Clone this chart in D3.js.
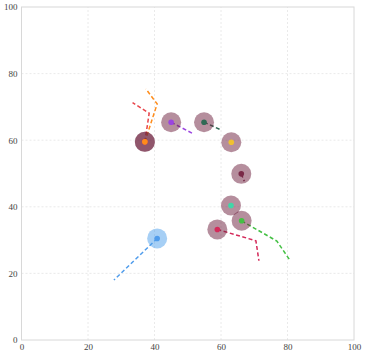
<!DOCTYPE html>
<html><head><meta charset="utf-8">
<script src="https://cdn.jsdelivr.net/npm/d3@7"></script>
<style>body{margin:0;background:#fff}svg{display:block}</style>
</head><body>
<script>
const names = ["red","orange","purple","darkgreen","yellow","maroon","teal","green","crimson","blue"];
const colors = ["#e8454a","#ff8c1a","#9b45e0","#2f6a55","#f0c030","#7a2a48","#40d6a8","#44c044","#d42a5a","#4f9cec"];
const haloColors = ["#6b1e3c","#6b1e3c","#6b1e3c","#6b1e3c","#6b1e3c","#6b1e3c","#6b1e3c","#6b1e3c","#6b1e3c","#4ea0ec"];
const currentX = [37.1, 37.1, 45.0, 54.9, 63.1, 66.1, 63.0, 66.2, 58.9, 40.8];
const currentY = [59.5, 59.5, 65.4, 65.4, 59.4, 49.9, 40.4, 35.8, 33.2, 30.5];
const trailX = [[37.1,38.4,33.4],[37.1,40.8,37.4],[45.0,51.7],[54.9,60.2],[],[66.1,67.0],[],[66.2,76.8,80.5],[58.9,70.5,71.4],[40.8,27.8]];
const trailY = [[59.5,68.1,71.3],[59.5,70.9,75.4],[65.4,61.9],[65.4,63.0],[],[49.9,47.7],[],[35.8,29.7,24.3],[33.2,29.8,23.8],[30.5,18.0]];
const ticks = [0,20,40,60,80,100];

const W=366,H=356, m={l:21.5,r:12,t:7,b:16};
const svg=d3.select("body").append("svg").attr("width",W).attr("height",H);
const x=d3.scaleLinear().domain([0,100]).range([m.l,W-m.r]);
const y=d3.scaleLinear().domain([0,100]).range([H-m.b,m.t]);
const font="'Liberation Serif', serif";

const g=svg.append("g");
g.selectAll(".gx").data(ticks.slice(1,-1)).join("line")
 .attr("x1",d=>x(d)).attr("x2",d=>x(d)).attr("y1",y(0)).attr("y2",y(100))
 .attr("stroke","#e4e4e4").attr("stroke-width",0.8).attr("stroke-dasharray","2,2");
g.selectAll(".gy").data(ticks.slice(1,-1)).join("line")
 .attr("y1",d=>y(d)).attr("y2",d=>y(d)).attr("x1",x(0)).attr("x2",x(100))
 .attr("stroke","#e4e4e4").attr("stroke-width",0.8).attr("stroke-dasharray","2,2");
g.append("rect").attr("x",x(0)).attr("y",y(100)).attr("width",x(100)-x(0)).attr("height",y(0)-y(100))
 .attr("fill","none").attr("stroke","#d8d8d8").attr("stroke-width",1);

const xa=d3.axisBottom(x).tickValues(ticks).tickSize(0).tickPadding(4);
const ya=d3.axisLeft(y).tickValues(ticks).tickSize(0).tickPadding(4);
const gx=svg.append("g").attr("transform",`translate(0,${y(0)})`).call(xa);
const gy=svg.append("g").attr("transform",`translate(${x(0)},0)`).call(ya);
[gx,gy].forEach(a=>{a.select(".domain").remove();a.selectAll("text").attr("font-family",font).attr("font-size",9).attr("fill","#444");});

const line=d3.line().x(d=>x(d[0])).y(d=>y(d[1]));
names.forEach((n,i)=>{
  const pts=trailX[i].map((v,j)=>[v,trailY[i][j]]);
  if(pts.length>1) svg.append("path").attr("d",line(pts)).attr("fill","none")
    .attr("stroke",colors[i]).attr("stroke-width",1.5).attr("stroke-dasharray","4,2.5");
});
names.forEach((n,i)=>{
  svg.append("circle").attr("cx",x(currentX[i])).attr("cy",y(currentY[i])).attr("r",10)
    .attr("fill",haloColors[i]).attr("fill-opacity",0.5);
});
names.forEach((n,i)=>{
  svg.append("circle").attr("cx",x(currentX[i])).attr("cy",y(currentY[i])).attr("r",2.8)
    .attr("fill",colors[i]);
});
</script>
</body></html>
